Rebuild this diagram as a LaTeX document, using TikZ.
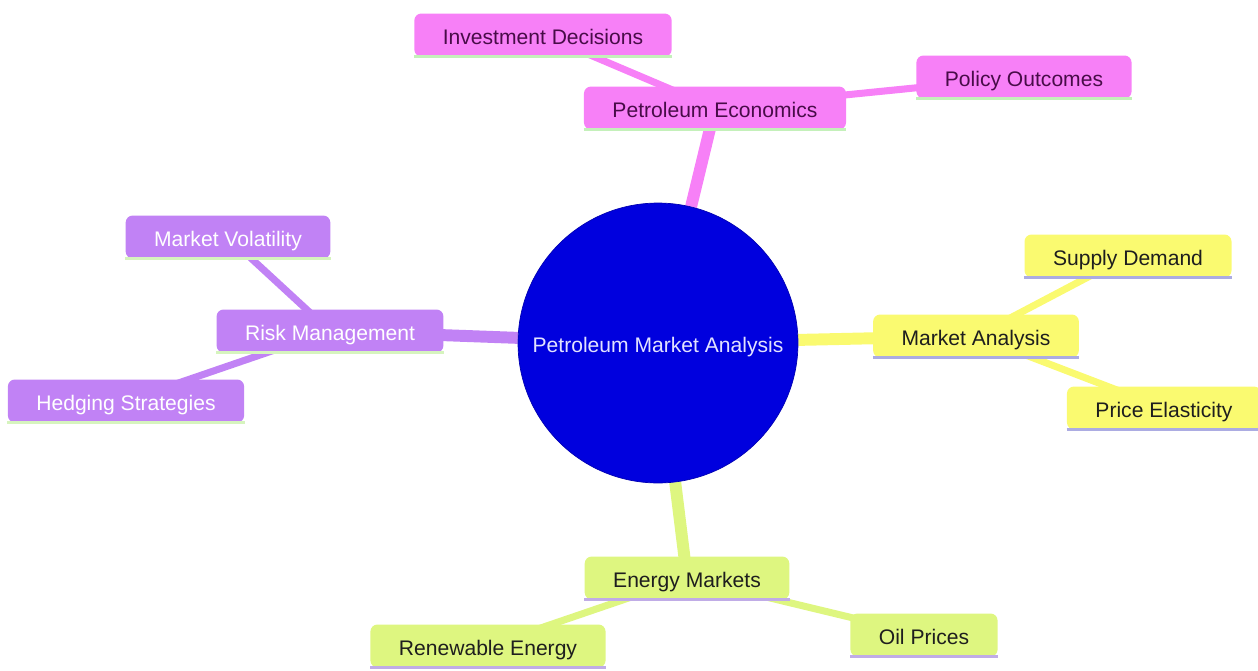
\documentclass[tikz,border=0pt]{standalone}
\usepackage{fontspec}
\setmainfont{Liberation Sans}
\usetikzlibrary{backgrounds}

\definecolor{rootblue}{RGB}{0,0,222}
\definecolor{roottext}{RGB}{226,226,255}
\definecolor{pinkfill}{RGB}{247,128,247}
\definecolor{pinkline}{RGB}{196,240,186}
\definecolor{pinktext}{RGB}{72,12,72}
\definecolor{yellowfill}{RGB}{250,250,112}
\definecolor{yellowline}{RGB}{172,172,226}
\definecolor{purplefill}{RGB}{193,130,245}
\definecolor{purpleline}{RGB}{214,244,190}
\definecolor{greenfill}{RGB}{222,246,128}
\definecolor{greenline}{RGB}{192,172,230}
\definecolor{darktext}{RGB}{30,30,30}

\tikzset{
  mmnode/.style={rectangle, rounded corners=4pt, draw=none, inner xsep=0.57cm,
    minimum height=0.86cm, text height=11pt, text depth=0.4pt, font=\fontsize{12}{14}\selectfont,
    append after command={(\tikzlastnode.south west) edge[draw=#1, line width=1.6pt] (\tikzlastnode.south east)}},
  pinknode/.style={mmnode=pinkline, fill=pinkfill, text=pinktext},
  yellownode/.style={mmnode=yellowline, fill=yellowfill, text=darktext},
  purplenode/.style={mmnode=purpleline, fill=purplefill, text=white},
  greennode/.style={mmnode=greenline, fill=greenfill, text=darktext},
  mainedge/.style={line width=6.8pt},
  subedge/.style={line width=4pt}
}

\begin{document}
\begin{tikzpicture}[x=0.02cm, y=-0.02cm]
% Mapa mental: Petroleum Market Analysis
\useasboundingbox (0,0) rectangle (1258,670);
\node (root) at (658,343) [circle, fill=rootblue, draw=rootblue!80!black, minimum size=5.6cm, text height=11pt, text depth=0.4pt, text=roottext, font=\fontsize{12}{14}\selectfont] {Petroleum Market Analysis};
\node (econ) at (715,108) [pinknode] {Petroleum Economics};
\node (invest) at (543,35) [pinknode] {Investment Decisions};
\node (policy) at (1024,77) [pinknode] {Policy Outcomes};
\node (market) at (976,336) [yellownode] {Market Analysis};
\node (supply) at (1128,256) [yellownode] {Supply Demand};
\node (elastic) at (1164,408) [yellownode] {Price Elasticity};
\node (risk) at (330,331) [purplenode] {Risk Management};
\node (volat) at (228,237) [purplenode] {Market Volatility};
\node (hedge) at (126,401) [purplenode] {Hedging Strategies};
\node (energy) at (687,578) [greennode] {Energy Markets};
\node (renew) at (488,646) [greennode] {Renewable Energy};
\node (oil) at (924,635) [greennode] {Oil Prices};
\begin{pgfonlayer}{background}
\draw[mainedge, pinkfill] (root) -- (econ.center);
\draw[subedge, pinkfill] (econ.center) -- (invest.center);
\draw[subedge, pinkfill] (econ.center) -- (policy.center);
\draw[mainedge, yellowfill] (root) -- (market.center);
\draw[subedge, yellowfill] (market.center) -- (supply.center);
\draw[subedge, yellowfill] (market.center) -- (elastic.center);
\draw[mainedge, purplefill] (root) -- (risk.center);
\draw[subedge, purplefill] (risk.center) -- (volat.center);
\draw[subedge, purplefill] (risk.center) -- (hedge.center);
\draw[mainedge, greenfill] (root) -- (energy.center);
\draw[subedge, greenfill] (energy.center) -- (renew.center);
\draw[subedge, greenfill] (energy.center) -- (oil.center);
\end{pgfonlayer}
\end{tikzpicture}
\end{document}
